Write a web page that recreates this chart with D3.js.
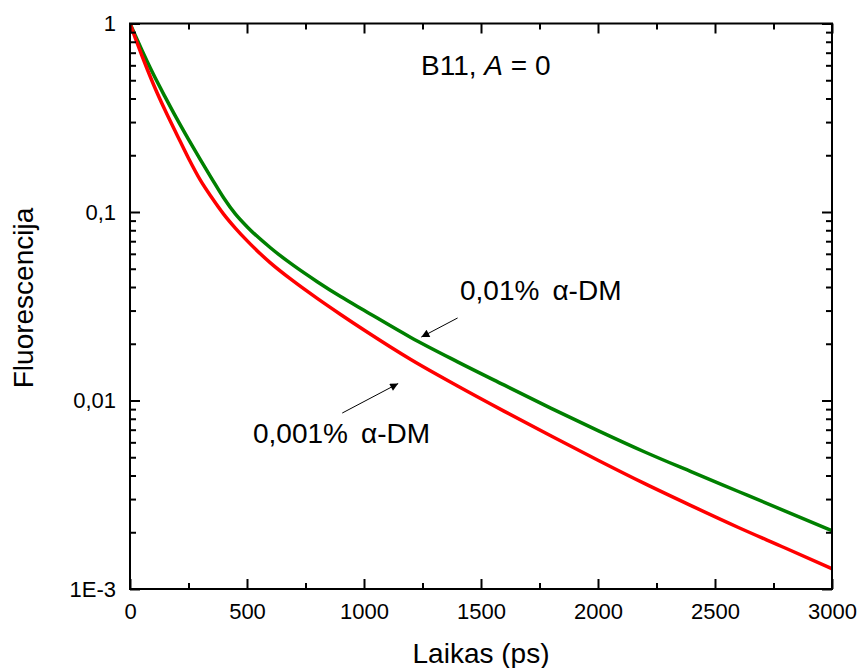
<!DOCTYPE html>
<html>
<head>
<meta charset="utf-8">
<script src="https://cdn.jsdelivr.net/npm/d3@7"></script>
<style>
  body { margin: 0; background: #fff; }
  svg { font-family: Arial, "Liberation Sans", sans-serif; }
</style>
</head>
<body>
<svg id="chart"></svg>
<script>
// Chart data
const times = [0, 25, 50, 75, 100, 150, 200, 250, 300, 350, 400, 450, 500, 600, 700, 800, 900, 1000,
  1200, 1400, 1600, 1800, 2000, 2200, 2400, 2600, 2800, 3000];
const green01 = [1, 0.850, 0.726, 0.623, 0.5375, 0.408, 0.3126, 0.2427, 0.190, 0.150, 0.119, 0.0977, 0.0836,
  0.0646, 0.0519, 0.0427, 0.0356, 0.0301, 0.0216, 0.01604, 0.01206, 0.00909, 0.00692, 0.00533, 0.00418,
  0.00329, 0.00259, 0.00204];
const red001 = [1, 0.822, 0.679, 0.5665, 0.4764, 0.3464, 0.2580, 0.1928, 0.148, 0.119, 0.0975, 0.0822, 0.0705,
  0.0537, 0.0428, 0.0348, 0.0286, 0.02366, 0.01650, 0.01194, 0.00876, 0.00648, 0.00482, 0.00362, 0.00276,
  0.00212, 0.00165, 0.00128];
const xTicks = [0, 500, 1000, 1500, 2000, 2500, 3000];
const xMinor = [250, 750, 1250, 1750, 2250, 2750];
const yTicks = [1, 0.1, 0.01, 0.001];
const yTickLabels = ["1", "0,1", "0,01", "1E-3"];

// Chart dimensions
const width = 859;
const height = 668;
const mLeft = 130, mRight = 832, mTop = 23.5, mBottom = 589;

const svg = d3.select("#chart")
  .attr("width", width)
  .attr("height", height);

const xScale = d3.scaleLinear().domain([0, 3000]).range([mLeft, mRight]);
const yScale = d3.scaleLog().domain([0.001, 1]).range([mBottom, mTop]);

// minor ticks for the log axis: 2..9 in each decade
const yMinor = [];
[0.001, 0.01, 0.1].forEach(d => {
  for (let k = 2; k <= 9; k++) yMinor.push(d * k);
});

// clip curves to the plot frame
svg.append("clipPath").attr("id", "clip")
  .append("rect")
  .attr("x", mLeft).attr("y", mTop)
  .attr("width", mRight - mLeft).attr("height", mBottom - mTop);

const line = d3.line()
  .x(d => xScale(d[0]))
  .y(d => yScale(d[1]))
  .curve(d3.curveMonotoneX);

const series = [
  { values: green01, color: "#008000" },
  { values: red001, color: "#ff0000" }
];

svg.append("g").attr("clip-path", "url(#clip)")
  .selectAll("path")
  .data(series)
  .enter()
  .append("path")
  .attr("d", s => line(times.map((t, i) => [t, s.values[i]])))
  .attr("fill", "none")
  .attr("stroke", s => s.color)
  .attr("stroke-width", 3.5)
  .attr("stroke-linejoin", "round");

// Axes (ticks point inward)
function styleAxis(g) {
  g.select(".domain").remove();
  g.selectAll(".tick line").attr("stroke", "#000").attr("stroke-width", 2);
  g.selectAll("text").attr("fill", "#000").style("font-size", "22px");
}

svg.append("g")
  .attr("transform", `translate(0, ${mBottom})`)
  .call(d3.axisBottom(xScale).tickValues(xTicks).tickSize(-10).tickPadding(14).tickFormat(d3.format("d")))
  .call(styleAxis);
svg.append("g")
  .attr("transform", `translate(0, ${mBottom})`)
  .call(d3.axisBottom(xScale).tickValues(xMinor).tickSize(-6).tickFormat(""))
  .call(styleAxis);
svg.append("g")
  .attr("transform", `translate(0, ${mTop})`)
  .call(d3.axisTop(xScale).tickValues(xTicks).tickSize(-10).tickFormat(""))
  .call(styleAxis);
svg.append("g")
  .attr("transform", `translate(0, ${mTop})`)
  .call(d3.axisTop(xScale).tickValues(xMinor).tickSize(-6).tickFormat(""))
  .call(styleAxis);

svg.append("g")
  .attr("transform", `translate(${mLeft}, 0)`)
  .call(d3.axisLeft(yScale).tickValues(yTicks).tickSize(-10).tickPadding(14)
    .tickFormat((d, i) => yTickLabels[i]))
  .call(styleAxis);
svg.append("g")
  .attr("transform", `translate(${mLeft}, 0)`)
  .call(d3.axisLeft(yScale).tickValues(yMinor).tickSize(-6).tickFormat(""))
  .call(styleAxis);
svg.append("g")
  .attr("transform", `translate(${mRight}, 0)`)
  .call(d3.axisRight(yScale).tickValues(yTicks).tickSize(-10).tickFormat(""))
  .call(styleAxis);
svg.append("g")
  .attr("transform", `translate(${mRight}, 0)`)
  .call(d3.axisRight(yScale).tickValues(yMinor).tickSize(-6).tickFormat(""))
  .call(styleAxis);

// frame
svg.append("rect")
  .attr("x", mLeft).attr("y", mTop)
  .attr("width", mRight - mLeft).attr("height", mBottom - mTop)
  .attr("fill", "none")
  .attr("stroke", "#000")
  .attr("stroke-width", 2);

// Axis titles
svg.append("text")
  .attr("x", (mLeft + mRight) / 2)
  .attr("y", 663)
  .attr("text-anchor", "middle")
  .style("font-size", "28px")
  .text("Laikas (ps)");

svg.append("text")
  .attr("transform", "translate(33, 298) rotate(-90)")
  .attr("text-anchor", "middle")
  .style("font-size", "28px")
  .text("Fluorescencija");

// Annotations
const title = svg.append("text")
  .attr("x", 421)
  .attr("y", 75)
  .style("font-size", "28px");
title.append("tspan").text("B11, ");
title.append("tspan").attr("font-style", "italic").text("A");
title.append("tspan").text(" = 0");

const lab1 = svg.append("text")
  .attr("x", 460)
  .attr("y", 300)
  .style("font-size", "28px");
lab1.append("tspan").text("0,01%");
lab1.append("tspan").attr("dx", 13).text("α-DM");

const lab2 = svg.append("text")
  .attr("x", 253)
  .attr("y", 443)
  .style("font-size", "28px");
lab2.append("tspan").text("0,001%");
lab2.append("tspan").attr("dx", 13).text("α-DM");

// arrows pointing at the curves
svg.append("defs").append("marker")
  .attr("id", "arrow")
  .attr("viewBox", "0 0 10 10")
  .attr("refX", 10).attr("refY", 5)
  .attr("markerWidth", 12).attr("markerHeight", 8)
  .attr("markerUnits", "userSpaceOnUse")
  .attr("orient", "auto")
  .append("path")
  .attr("d", "M0,0 L10,5 L0,10 Z")
  .attr("fill", "#000");

// arrow positions in data coordinates
const arrowPts = [
  { from: [1400, 0.0274], to: [1245, 0.0217] },
  { from: [907, 0.00858], to: [1146, 0.0123] }
];
svg.selectAll(".arrow")
  .data(arrowPts)
  .enter()
  .append("line")
  .attr("class", "arrow")
  .attr("x1", d => xScale(d.from[0]))
  .attr("y1", d => yScale(d.from[1]))
  .attr("x2", d => xScale(d.to[0]))
  .attr("y2", d => yScale(d.to[1]))
  .attr("stroke", "#000")
  .attr("stroke-width", 1)
  .attr("marker-end", "url(#arrow)");
</script>
</body>
</html>
